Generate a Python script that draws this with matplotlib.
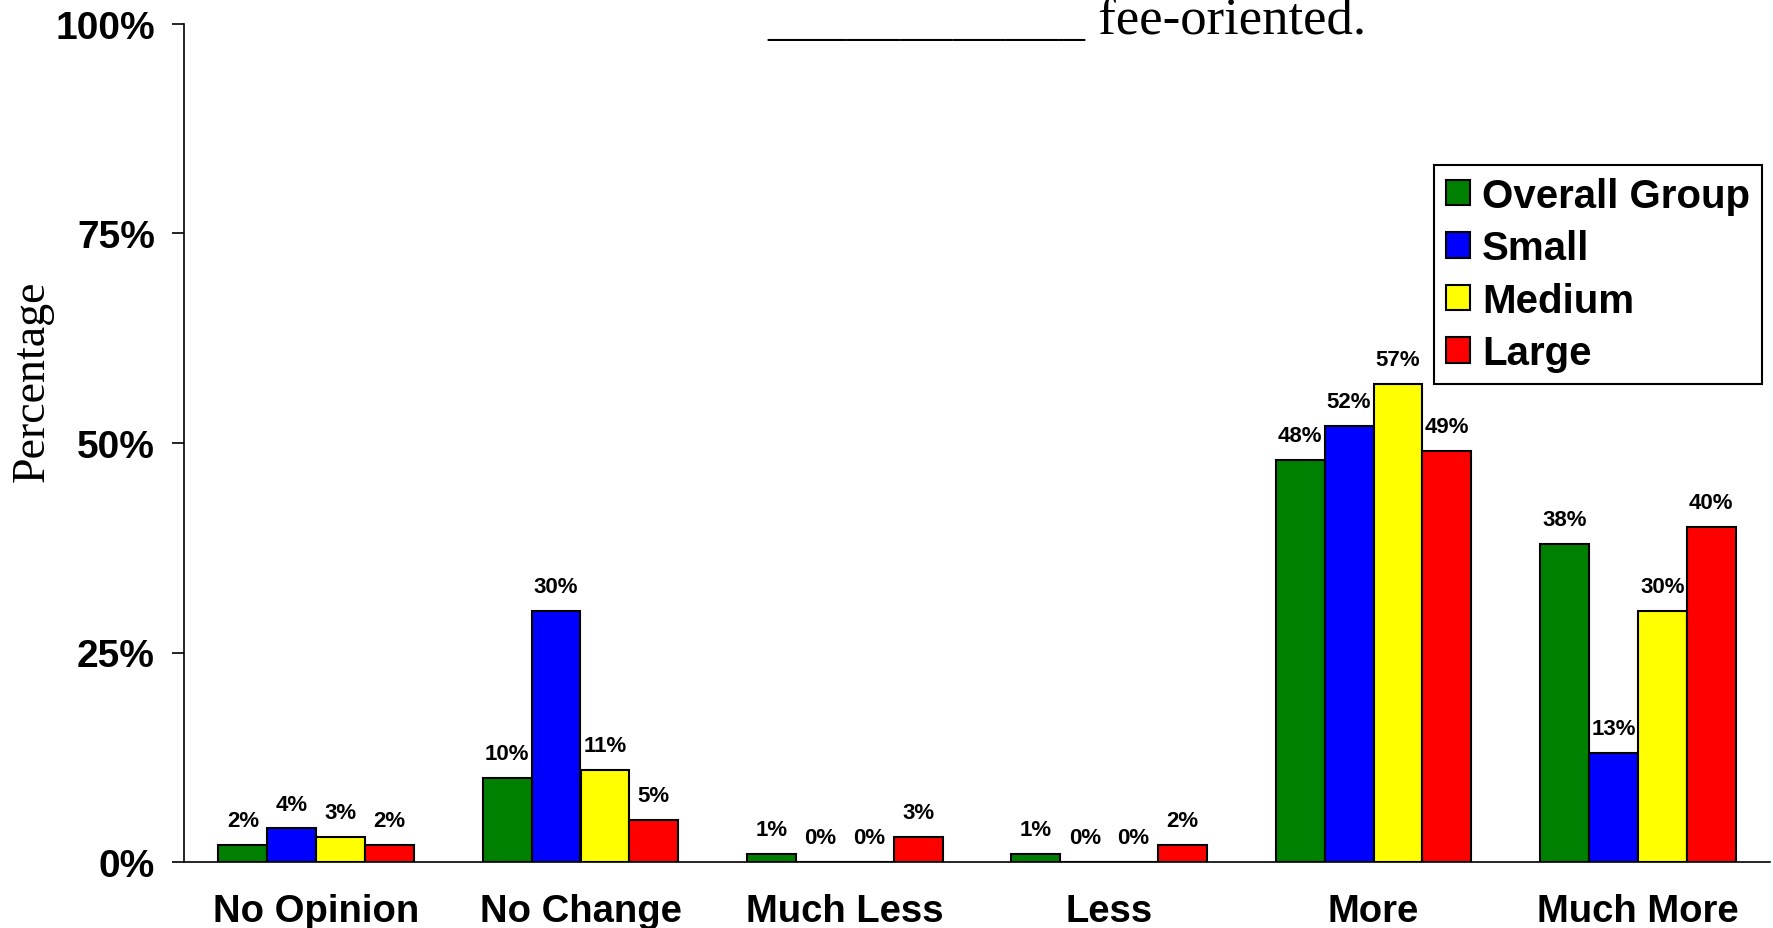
import matplotlib
matplotlib.use("Agg")
import matplotlib.pyplot as plt
import numpy as np

categories = ["No Opinion", "No Change", "Much Less", "Less", "More", "Much More"]
series_names = ["Overall Group", "Small", "Medium", "Large"]
overall = [2, 10, 1, 1, 48, 38]
small = [4, 30, 0, 0, 52, 13]
medium = [3, 11, 0, 0, 57, 30]
large = [2, 5, 3, 2, 49, 40]
yticks = [0, 25, 50, 75, 100]
colors = ["#008000", "#0000FF", "#FFFF00", "#FF0000"]

sans = ["Liberation Sans", "DejaVu Sans"]
serif = ["Liberation Serif", "DejaVu Serif"]

fig = plt.figure(figsize=(17.73, 9.29), dpi=100)
ax = fig.add_axes([184/1773, 1-863/929, 1586/1773, 838/929])

x = np.arange(len(categories))
w = 0.185
data = [overall, small, medium, large]
for i, (vals, name, c) in enumerate(zip(data, series_names, colors)):
    pos = x + (i - 1.5) * w
    bars = ax.bar(pos, vals, width=w, color=c, edgecolor="black", linewidth=1.5, label=name)
    for b, v in zip(bars, vals):
        ax.annotate(f"{v}%", (b.get_x() + b.get_width()/2, v), xytext=(0, 10),
                    textcoords="offset points", ha="center", va="bottom",
                    fontsize=16, fontweight="bold", family=sans)

ax.set_xlim(-0.5, 5.5)
ax.set_ylim(0, 100)
ax.set_yticks(yticks)
ax.set_yticklabels([f"{t}%" for t in yticks], fontsize=28, fontweight="bold", family=sans)
ax.set_xticks(x)
ax.set_xticklabels(categories, fontsize=27.5, fontweight="bold", family=sans)
ax.tick_params(axis="x", length=0, pad=22)
ax.tick_params(axis="y", direction="out", length=9, width=1.2, pad=12)
for s in ["top", "right"]:
    ax.spines[s].set_visible(False)
for s in ["left", "bottom"]:
    ax.spines[s].set_linewidth(1.2)

ax.set_ylabel("Percentage", fontsize=33, family=serif)
ax.yaxis.set_label_coords(-0.082, 0.575)

leg = ax.legend(loc="upper right", bbox_to_anchor=(0.995, 0.832), borderaxespad=0,
                prop={"family": sans, "weight": "bold", "size": 29},
                handlelength=0.6, handleheight=0.6, handletextpad=0.3,
                labelspacing=0.36, fancybox=False, edgecolor="black", framealpha=1,
                borderpad=0.3)
leg.get_frame().set_linewidth(1.5)

fig.text(767/1773, 1-34/929, "____________ fee-oriented.", fontsize=38, family=serif,
         ha="left", va="baseline")

fig.savefig("out.png", dpi=100)
